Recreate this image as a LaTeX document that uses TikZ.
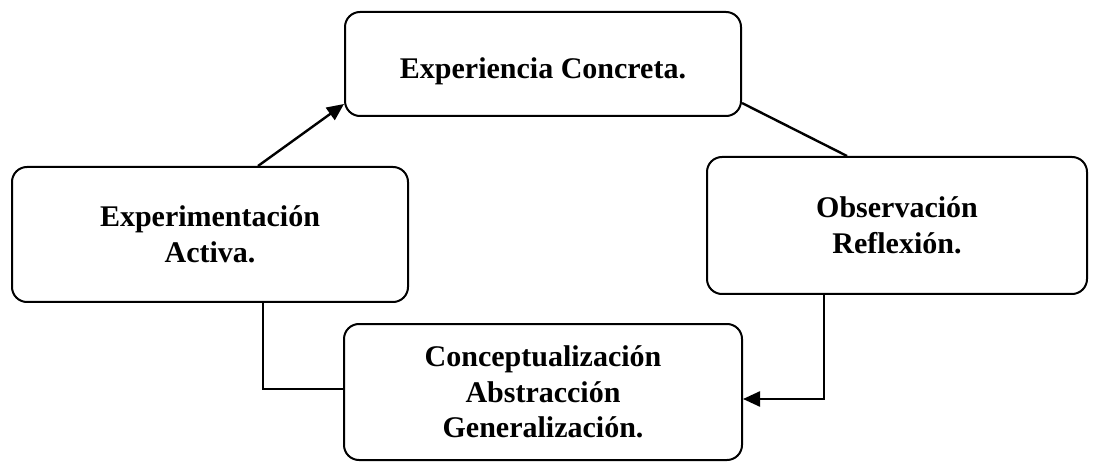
\documentclass[tikz,border=0pt]{standalone}
\usepackage{fontspec}
\setmainfont{Liberation Serif}
\usetikzlibrary{arrows.meta}

\begin{document}
\begin{tikzpicture}[
    x=1pt, y=-1pt,
    etapa/.style={draw, line width=2pt, rounded corners=15pt, align=center,
      font=\fontsize{30}{35.5}\selectfont\bfseries, inner sep=0pt},
    flecha/.style={line width=2.4pt, -{Triangle[length=17pt,width=15pt]}},
    linea/.style={line width=2.4pt}
  ]
    \useasboundingbox (0,0) rectangle (1101,473);
    \node[etapa, minimum width=396pt, minimum height=104pt, text height=36pt, text depth=7pt] (concreta) at (543,64) {Experiencia Concreta.};
    \node[etapa, minimum width=380pt, minimum height=137pt] (observacion) at (897,225.5) {Observación\\Reflexión.};
    \node[etapa, minimum width=396pt, minimum height=135pt] (activa) at (210,234.5) {Experimentación\\Activa.};
    \node[etapa, minimum width=398pt, minimum height=136pt] (abstraccion) at (543,392) {Conceptualización\\Abstracción\\Generalización.};
    % conectores
    \draw[flecha] ([xshift=48pt]activa.north) -- ([yshift=13pt]concreta.south west);
    \draw[linea] ([yshift=14pt]concreta.south east) -- ([xshift=-50pt]observacion.north);
    \draw[flecha] ([xshift=-73pt]observacion.south) |- ([yshift=-7pt]abstraccion.east);
    \draw[linea] ([xshift=53pt]activa.south) |- ([yshift=3pt]abstraccion.west);
\end{tikzpicture}
\end{document}
